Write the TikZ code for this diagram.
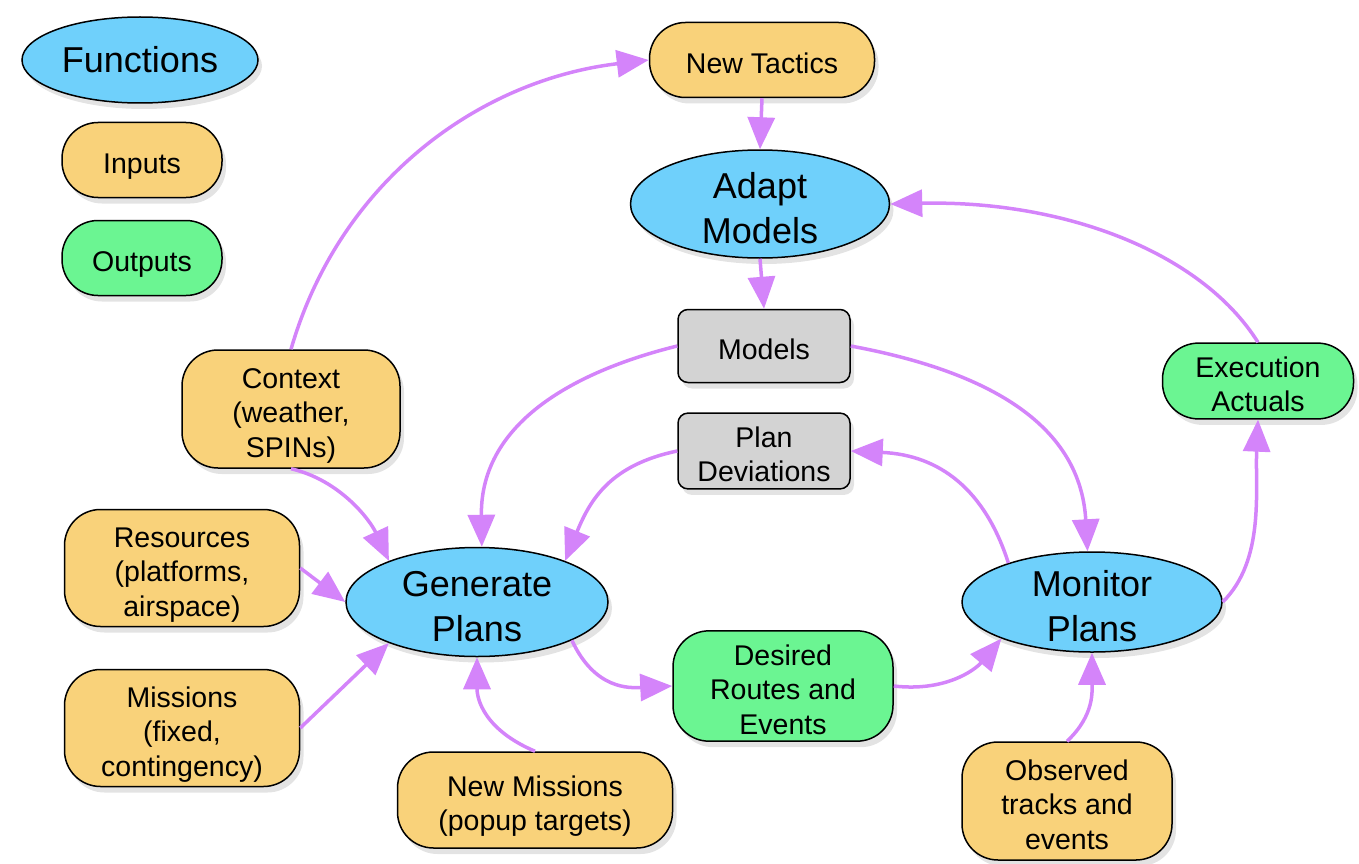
\documentclass[tikz,border=0pt]{standalone}
\usepackage{fontspec}
\setmainfont{Liberation Sans}
\usetikzlibrary{arrows.meta,shadows,shapes.geometric}
\definecolor{fblue}{RGB}{111,208,251}
\definecolor{forange}{RGB}{249,210,122}
\definecolor{fgreen}{RGB}{107,245,146}
\definecolor{fgray}{RGB}{211,211,211}
\definecolor{fpurple}{RGB}{212,132,250}
\newcommand\ts{\rule{0pt}{1.2em}}
\newcommand\bs{\rule[-0.25em]{0pt}{0.25em}}
\begin{document}
\begin{tikzpicture}[x=1pt,y=-1pt,
 base/.style={draw=black,line width=1.5pt,align=center,inner sep=0pt,
   drop shadow={shadow xshift=4pt,shadow yshift=-6pt,opacity=0.22}},
 func/.style={base,ellipse,inner ysep=-18pt,fill=fblue,font=\fontsize{36}{44.5}\selectfont},
 smalltext/.style={font=\fontsize{28.5}{34.5}\selectfont},
 inbox/.style={base,smalltext,rectangle,rounded corners=36pt,fill=forange},
 outbox/.style={inbox,fill=fgreen},
 databox/.style={base,smalltext,rectangle,rounded corners=10pt,fill=fgray},
 link/.style={draw=fpurple,line width=3.5pt,-{Triangle[length=32pt,width=27pt]}}
]
\useasboundingbox (0,0) rectangle (1359,864);
% legend
\node[func,inner ysep=0pt,minimum width=236pt,minimum height=86pt] (lf) at (140,60) {Functions};
\node[inbox,minimum width=160pt,minimum height=75pt] (li) at (142,160) {\ts Inputs\bs};
\node[outbox,minimum width=160pt,minimum height=75pt] (lo) at (142,258) {\ts Outputs\bs};
% main nodes
\node[inbox,minimum width=225pt,minimum height=75pt] (nt) at (762,60) {\ts New Tactics\bs};
\node[func,minimum width=259pt,minimum height=108pt] (am) at (760,204) {\ts Adapt\\Models\bs};
\node[databox,minimum width=172pt,minimum height=73pt] (mo) at (764,346) {\ts Models\bs};
\node[databox,minimum width=172pt,minimum height=74pt] (pd) at (764,451) {\ts Plan\\Deviations\bs};
\node[outbox,minimum width=191pt,minimum height=74pt] (ex) at (1258,381) {\ts Execution\\Actuals\bs};
\node[inbox,minimum width=218pt,minimum height=118pt] (cx) at (291,409) {\ts Context\\(weather,\\SPINs)\bs};
\node[inbox,minimum width=235pt,minimum height=117pt] (rs) at (182,568) {\ts Resources\\(platforms,\\airspace)\bs};
\node[inbox,minimum width=235pt,minimum height=117pt] (ms) at (182,728) {\ts Missions\\(fixed,\\contingency)\bs};
\node[func,minimum width=262pt,minimum height=109pt] (gp) at (477,602) {\ts Generate\\Plans\bs};
\node[outbox,minimum width=220pt,minimum height=108pt] (dr) at (783,686) {\ts Desired\\Routes and\\Events\bs};
\node[inbox,minimum width=275pt,minimum height=96pt] (nm) at (535,800) {\ts New Missions\\(popup targets)\bs};
\node[func,minimum width=260pt,minimum height=100pt] (mp) at (1092,602) {\ts Monitor\\Plans\bs};
\node[inbox,minimum width=210pt,minimum height=118pt] (ob) at (1067,801) {\ts Observed\\tracks and\\events\bs};
% connectors
\draw[link] (cx.north) .. controls (340,180) and (480,80) .. (nt.west);
\draw[link] (nt.south) -- (am.north);
\draw[link] (am.south) -- (mo.north);
\draw[link] (ex.north) .. controls (1200,250) and (1060,200) .. (am.east);
\draw[link] (mo.west) .. controls (580,370) and (480,420) .. (gp.85);
\draw[link] (mo.east) .. controls (980,370) and (1080,420) .. (mp.95);
\draw[link] (pd.west) .. controls (610,465) and (590,500) .. (gp.25);
\draw[link] (mp.155) .. controls (985,490) and (940,455) .. (pd.east);
\draw[link] (mp.east) .. controls (1265,560) and (1255,490) .. (ex.south);
\draw[link] (cx.south) .. controls (340,480) and (370,520) .. (gp.155);
\draw[link] (rs.east) -- (gp.west);
\draw[link] (ms.east) -- (gp.205);
\draw[link] (nm.north) .. controls (485,730) and (477,700) .. (gp.south);
\draw[link] (gp.338) .. controls (595,690) and (630,688) .. (dr.west);
\draw[link] (dr.east) .. controls (945,692) and (975,670) .. (mp.202);
\draw[link] (ob.north) .. controls (1095,715) and (1092,690) .. (mp.south);
\end{tikzpicture}
\end{document}
